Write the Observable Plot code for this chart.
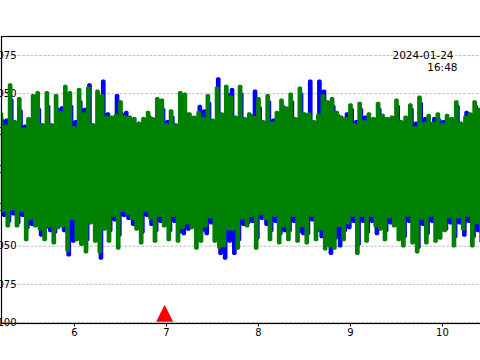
<!DOCTYPE html>
<html>
<head>
<meta charset="utf-8">
<script src="https://cdn.jsdelivr.net/npm/d3@7"></script>
<script src="https://cdn.jsdelivr.net/npm/@observablehq/plot@0.6"></script>
<style>
  html, body { margin: 0; padding: 0; background: white; }
  #chart svg { display: block; }
</style>
</head>
<body>
<div id="chart"></div>
<script>
// ---- data ----
const tStart = 5.20;      // time of first sample (s)
const tStep = 0.05;       // sample spacing (s)

const greenUp = [
  0.037, 0.029, 0.056, 0.032, 0.047, 0.027, 0.034, 0.049, 0.051, 0.030, 0.051, 0.030, 0.049, 0.038, 0.055, 0.051, 0.028, 0.053, 0.037, 0.054, 0.030, 0.052, 0.049, 0.035, 0.035, 0.036, 0.045, 0.035, 0.035, 0.034, 0.031, 0.034, 0.038, 0.034, 0.047,
  0.046, 0.030, 0.039, 0.030, 0.051, 0.050, 0.037, 0.035, 0.038, 0.034, 0.049, 0.033, 0.054, 0.037, 0.055, 0.048, 0.035, 0.055, 0.034, 0.037, 0.035, 0.047, 0.032, 0.049, 0.031, 0.038, 0.046, 0.041, 0.050, 0.034, 0.054, 0.037, 0.037, 0.032, 0.036,
  0.049, 0.045, 0.047, 0.038, 0.035, 0.034, 0.043, 0.030, 0.044, 0.032, 0.037, 0.034, 0.044, 0.036, 0.034, 0.035, 0.046, 0.032, 0.035, 0.043, 0.028, 0.048, 0.031, 0.036, 0.031, 0.037, 0.030, 0.036, 0.034, 0.045, 0.031, 0.035, 0.037, 0.045, 0.040
];
const greenDown = [
  -0.027, -0.037, -0.026, -0.037, -0.027, -0.046, -0.032, -0.037, -0.039, -0.046, -0.037, -0.048, -0.038, -0.037, -0.053, -0.032, -0.046, -0.049, -0.054, -0.035, -0.047, -0.054, -0.039, -0.047, -0.030, -0.0515, -0.027, -0.029, -0.032, -0.039, -0.048, -0.027, -0.032, -0.047, -0.030,
  -0.037, -0.046, -0.030, -0.047, -0.038, -0.035, -0.038, -0.0515, -0.047, -0.037, -0.031, -0.047, -0.051, -0.050, -0.039, -0.039, -0.0515, -0.032, -0.037, -0.030, -0.0515, -0.029, -0.032, -0.046, -0.030, -0.048, -0.037, -0.046, -0.030, -0.047, -0.037, -0.048, -0.030, -0.046, -0.039,
  -0.052, -0.050, -0.0515, -0.037, -0.046, -0.035, -0.030, -0.055, -0.030, -0.047, -0.030, -0.037, -0.039, -0.046, -0.031, -0.037, -0.046, -0.050, -0.030, -0.048, -0.054, -0.032, -0.048, -0.030, -0.047, -0.045, -0.040, -0.031, -0.050, -0.031, -0.039, -0.030, -0.050, -0.035, -0.047
];
const blueUp = [
  0.033, 0.033, 0.046, 0.029, 0.039, 0.029, 0.031, 0.042, 0.040, 0.029, 0.042, 0.026, 0.040, 0.041, 0.046, 0.042, 0.032, 0.045, 0.040, 0.056, 0.027, 0.043, 0.0585, 0.037, 0.031, 0.049, 0.037, 0.038, 0.031, 0.030, 0.028, 0.031, 0.035, 0.030, 0.040,
  0.040, 0.032, 0.035, 0.027, 0.045, 0.037, 0.034, 0.032, 0.042, 0.039, 0.044, 0.030, 0.060, 0.034, 0.050, 0.053, 0.032, 0.050, 0.031, 0.036, 0.052, 0.041, 0.029, 0.045, 0.033, 0.035, 0.042, 0.039, 0.045, 0.031, 0.050, 0.034, 0.0585, 0.029, 0.0585,
  0.052, 0.040, 0.042, 0.036, 0.032, 0.037, 0.040, 0.032, 0.040, 0.035, 0.033, 0.031, 0.040, 0.034, 0.031, 0.034, 0.042, 0.029, 0.032, 0.040, 0.031, 0.044, 0.034, 0.031, 0.034, 0.033, 0.032, 0.033, 0.031, 0.042, 0.028, 0.038, 0.033, 0.042, 0.037
];
const blueDown = [
  -0.030, -0.034, -0.029, -0.035, -0.030, -0.038, -0.036, -0.035, -0.043, -0.038, -0.040, -0.041, -0.036, -0.040, -0.056, -0.047, -0.038, -0.045, -0.046, -0.034, -0.040, -0.058, -0.037, -0.040, -0.033, -0.043, -0.030, -0.032, -0.036, -0.037, -0.041, -0.030, -0.036, -0.040, -0.034,
  -0.035, -0.040, -0.034, -0.041, -0.042, -0.039, -0.036, -0.045, -0.040, -0.042, -0.035, -0.041, -0.055, -0.058, -0.047, -0.055, -0.046, -0.036, -0.035, -0.034, -0.045, -0.032, -0.036, -0.040, -0.034, -0.042, -0.040, -0.040, -0.034, -0.041, -0.042, -0.042, -0.033, -0.040, -0.044,
  -0.046, -0.055, -0.045, -0.050, -0.040, -0.038, -0.034, -0.049, -0.034, -0.041, -0.034, -0.042, -0.037, -0.040, -0.035, -0.035, -0.040, -0.044, -0.034, -0.042, -0.051, -0.036, -0.042, -0.034, -0.041, -0.039, -0.039, -0.035, -0.044, -0.035, -0.043, -0.034, -0.044, -0.040, -0.041
];

const markerT = [6.98];
const markerV = [-0.094];

const xTicks = [6, 7, 8, 9, 10];
const yTicks = [-0.100, -0.075, -0.050, -0.025, 0, 0.025, 0.050, 0.075];
const dateLine1 = "2024-01-24";
const dateLine2 = "16:48";

// ---- build traces ----
function trace(up, down, offset) {
  const pts = [];
  up.forEach((u, i) => {
    const t = tStart + tStep * i + offset;
    pts.push({t, v: u});
    pts.push({t: t + tStep / 2, v: down[i]});
  });
  return pts;
}
const blueData = trace(blueUp, blueDown, tStep / 4);
const greenData = trace(greenUp, greenDown, 0);
const markers = markerT.map((t, i) => ({t, v: markerV[i]}));

// matplotlib-like "^" marker (width == height)
const triangle = {
  draw(ctx, size) {
    const h = Math.sqrt(size / Math.PI);
    ctx.moveTo(0, -h);
    ctx.lineTo(h, h);
    ctx.lineTo(-h, h);
    ctx.closePath();
  }
};

const chart = Plot.plot({
  width: 480,
  height: 360,
  marginLeft: 1,
  marginRight: -10,
  marginTop: 36,
  marginBottom: 37,
  x: {domain: [5.2065, 10.522]},
  y: {domain: [-0.10066, 0.0875]},
  style: {fontFamily: "DejaVu Sans", fontSize: "10px", color: "black", background: "white"},
  marks: [
    Plot.gridY(yTicks, {stroke: "#b0b0b0", strokeOpacity: 1, strokeWidth: 0.8, strokeDasharray: "2.96,1.28"}),
    Plot.axisY(yTicks, {tickSize: 0, dx: 24, tickFormat: d3.format(".3f"), label: null, fontSize: 10}),
    Plot.line(blueData, {x: "t", y: "v", curve: "step", stroke: "#0000ff", strokeWidth: 2.4, strokeLinecap: "butt", strokeLinejoin: "miter"}),
    Plot.line(greenData, {x: "t", y: "v", curve: "step", stroke: "#008000", strokeWidth: 2.4, strokeLinecap: "butt", strokeLinejoin: "miter"}),
    Plot.dot(markers, {x: "t", y: "v", symbol: triangle, r: 8.5, fill: "#ff0000", stroke: "none"}),
    Plot.frame({stroke: "black", strokeWidth: 1.2}),
    Plot.axisX(xTicks, {tickSize: 3.5, tickPadding: 2, label: null, fontSize: 10, stroke: "black"}),
    Plot.text([dateLine1], {frameAnchor: "top-right", dx: -37, dy: 19, textAnchor: "end", lineAnchor: "middle", fontSize: 10.5}),
    Plot.text([dateLine2], {frameAnchor: "top-right", dx: -33, dy: 31, textAnchor: "end", lineAnchor: "middle", fontSize: 10.5})
  ]
});
document.getElementById("chart").appendChild(chart);
</script>
</body>
</html>
